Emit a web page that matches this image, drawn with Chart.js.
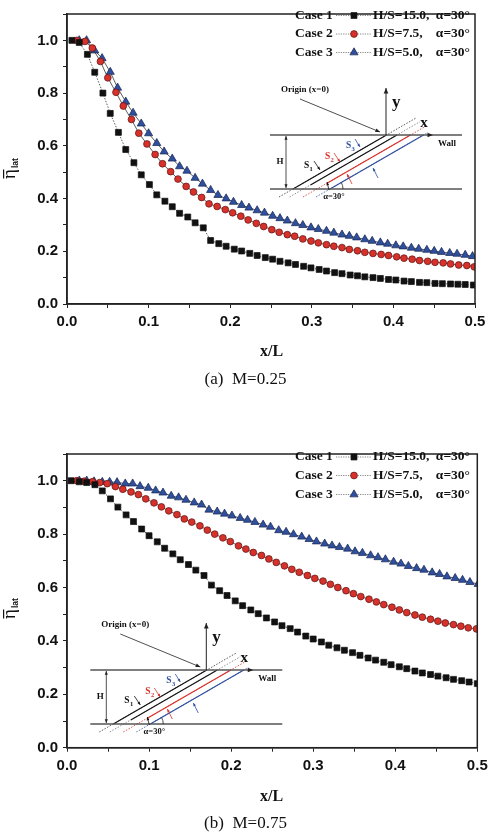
<!DOCTYPE html>
<html>
<head>
<meta charset="utf-8">
<script src="https://cdn.jsdelivr.net/npm/chart.js@4.4.1/dist/chart.umd.min.js"></script>
<style>
  html, body { margin: 0; padding: 0; background: #fff; }
  #wrap { position: relative; width: 493px; height: 837px; }
  .panel { position: absolute; left: 0; width: 493px; }
</style>
</head>
<body>
<div id="wrap">
  <div class="panel" style="top:0;height:400px"><canvas id="chartA"></canvas></div>
  <div class="panel" style="top:440px;height:397px"><canvas id="chartB"></canvas></div>
</div>
<script>
// ---- panel (a) M=0.25 ----
var xA1 = [0.006,0.015,0.025,0.034,0.044,0.053,0.063,0.072,0.082,0.091,0.101,0.110,0.120,0.129,0.138,0.148,0.157,0.167,0.176,0.186,0.195,0.205,0.214,0.224,0.233,0.243,0.252,0.261,0.271,0.280,0.290,0.299,0.309,0.318,0.328,0.337,0.347,0.356,0.365,0.375,0.384,0.394,0.403,0.413,0.422,0.432,0.441,0.451,0.460,0.470,0.479,0.488,0.498];
var yA1 = [1.000,0.992,0.947,0.879,0.800,0.723,0.651,0.586,0.536,0.490,0.453,0.414,0.390,0.369,0.344,0.330,0.308,0.289,0.241,0.229,0.219,0.208,0.201,0.192,0.184,0.176,0.170,0.162,0.156,0.150,0.143,0.137,0.131,0.125,0.119,0.115,0.110,0.107,0.103,0.100,0.097,0.093,0.091,0.087,0.085,0.082,0.081,0.078,0.077,0.076,0.075,0.074,0.072];
var xA2 = [0.012,0.022,0.031,0.041,0.050,0.060,0.069,0.079,0.088,0.098,0.108,0.117,0.127,0.136,0.146,0.155,0.165,0.174,0.184,0.194,0.203,0.213,0.222,0.232,0.241,0.251,0.260,0.270,0.279,0.289,0.299,0.308,0.318,0.327,0.337,0.346,0.356,0.365,0.375,0.385,0.394,0.404,0.413,0.423,0.432,0.442,0.451,0.461,0.470,0.480,0.490,0.499];
var yA2 = [1.000,0.996,0.971,0.920,0.858,0.803,0.751,0.700,0.648,0.607,0.567,0.532,0.502,0.474,0.446,0.425,0.404,0.380,0.370,0.358,0.346,0.333,0.319,0.306,0.294,0.282,0.272,0.263,0.257,0.247,0.239,0.232,0.225,0.219,0.214,0.207,0.202,0.196,0.192,0.188,0.184,0.179,0.174,0.170,0.165,0.162,0.158,0.156,0.152,0.148,0.146,0.141];
var xA3 = [0.015,0.024,0.034,0.043,0.053,0.062,0.072,0.081,0.091,0.100,0.110,0.119,0.129,0.138,0.147,0.157,0.166,0.176,0.185,0.195,0.204,0.214,0.223,0.233,0.242,0.252,0.261,0.270,0.280,0.289,0.299,0.308,0.318,0.327,0.337,0.346,0.355,0.365,0.374,0.384,0.393,0.403,0.412,0.422,0.431,0.441,0.450,0.459,0.469,0.478,0.488,0.497];
var yA3 = [1.000,1.000,0.961,0.932,0.880,0.820,0.767,0.725,0.684,0.647,0.610,0.578,0.551,0.522,0.505,0.478,0.456,0.432,0.413,0.400,0.387,0.375,0.365,0.355,0.346,0.334,0.325,0.316,0.306,0.299,0.290,0.284,0.277,0.270,0.263,0.258,0.252,0.245,0.239,0.233,0.228,0.222,0.218,0.213,0.209,0.205,0.201,0.197,0.193,0.190,0.186,0.181];

// ---- panel (b) M=0.75 ----
var xB1 = [0.005,0.015,0.024,0.034,0.043,0.053,0.062,0.072,0.081,0.091,0.100,0.110,0.119,0.129,0.138,0.148,0.157,0.167,0.176,0.186,0.195,0.205,0.214,0.224,0.233,0.243,0.253,0.262,0.272,0.281,0.291,0.300,0.310,0.319,0.329,0.338,0.348,0.357,0.367,0.376,0.386,0.395,0.405,0.414,0.424,0.433,0.443,0.452,0.462,0.471,0.481,0.490,0.500];
var yB1 = [1.000,0.996,0.993,0.985,0.962,0.932,0.901,0.872,0.847,0.819,0.794,0.771,0.747,0.726,0.704,0.686,0.665,0.645,0.609,0.588,0.570,0.550,0.532,0.516,0.502,0.486,0.471,0.457,0.446,0.433,0.418,0.407,0.396,0.384,0.374,0.365,0.356,0.346,0.336,0.328,0.320,0.311,0.303,0.296,0.287,0.280,0.274,0.268,0.262,0.256,0.251,0.246,0.240];
var xB2 = [0.012,0.021,0.031,0.040,0.049,0.059,0.068,0.078,0.087,0.096,0.106,0.115,0.124,0.134,0.143,0.152,0.162,0.171,0.180,0.190,0.199,0.209,0.218,0.227,0.237,0.246,0.255,0.265,0.274,0.283,0.293,0.302,0.312,0.321,0.330,0.340,0.349,0.358,0.368,0.377,0.386,0.396,0.405,0.414,0.424,0.433,0.443,0.452,0.461,0.471,0.480,0.489,0.499];
var yB2 = [1.000,0.998,0.996,0.993,0.989,0.978,0.968,0.958,0.948,0.932,0.917,0.902,0.887,0.873,0.857,0.845,0.831,0.815,0.800,0.786,0.772,0.756,0.744,0.731,0.720,0.707,0.694,0.681,0.668,0.657,0.645,0.634,0.624,0.612,0.600,0.588,0.577,0.566,0.556,0.546,0.536,0.526,0.516,0.506,0.497,0.489,0.481,0.474,0.467,0.461,0.455,0.449,0.445];
var xB3 = [0.015,0.024,0.033,0.043,0.052,0.061,0.071,0.080,0.089,0.099,0.108,0.117,0.127,0.136,0.145,0.155,0.164,0.173,0.183,0.192,0.201,0.211,0.220,0.229,0.239,0.248,0.258,0.267,0.276,0.286,0.295,0.304,0.314,0.323,0.332,0.342,0.351,0.360,0.370,0.379,0.388,0.398,0.407,0.416,0.426,0.435,0.445,0.454,0.463,0.473,0.482,0.491,0.501];
var yB3 = [1.000,1.000,0.997,0.995,0.995,0.994,0.989,0.989,0.979,0.973,0.963,0.955,0.943,0.937,0.928,0.918,0.910,0.891,0.884,0.876,0.869,0.860,0.853,0.845,0.835,0.827,0.814,0.808,0.799,0.790,0.781,0.772,0.764,0.757,0.751,0.745,0.735,0.729,0.720,0.713,0.705,0.696,0.689,0.680,0.672,0.666,0.656,0.650,0.641,0.635,0.628,0.620,0.613];

var caseNames = ["Case 1", "Case 2", "Case 3"];
var caseRatios = ["H/S=15.0,", "H/S=7.5,", "H/S=5.0,"];
var caseAngle = "\u03b1=30\u00b0";
var captions = ["(a)  M=0.25", "(b)  M=0.75"];
var xTitle = "x/L";

var SERIF = '"Liberation Serif", "Times New Roman", serif';
var SANS = '"Liberation Sans", Arial, sans-serif';
var styles = [
  { pointStyle: 'rect', radius: 4.2, fill: '#111', edge: '#111', dash: [1.5, 1.5] },
  { pointStyle: 'circle', radius: 3.4, fill: '#d8312b', edge: '#5a1512', dash: [] },
  { pointStyle: 'triangle', radius: 4.7, fill: '#2f4f9f', edge: '#15244f', dash: [] }
];

function pts(xs, ys) {
  return xs.map(function (x, i) { return { x: x, y: ys[i] }; });
}

function makeSet(xs, ys, k) {
  var s = styles[k];
  return {
    label: caseNames[k],
    data: pts(xs, ys),
    showLine: true,
    borderColor: '#333',
    borderWidth: 0.8,
    borderDash: s.dash,
    pointStyle: s.pointStyle,
    pointRadius: s.radius,
    pointHoverRadius: s.radius,
    pointBackgroundColor: s.fill,
    pointBorderColor: s.edge,
    pointBorderWidth: 0.7
  };
}

function isStep(v, step) {
  var q = v / step;
  return Math.abs(q - Math.round(q)) < 1e-6;
}

// small drawing helpers
function seg(ctx, x1, y1, x2, y2, color, w, dash) {
  ctx.save();
  ctx.strokeStyle = color; ctx.lineWidth = w || 1;
  ctx.setLineDash(dash || []);
  ctx.beginPath(); ctx.moveTo(x1, y1); ctx.lineTo(x2, y2); ctx.stroke();
  ctx.restore();
}
function head(ctx, x1, y1, x2, y2, color, size) {
  var a = Math.atan2(y2 - y1, x2 - x1), s = size || 5;
  ctx.save();
  ctx.fillStyle = color;
  ctx.beginPath();
  ctx.moveTo(x2, y2);
  ctx.lineTo(x2 - s * Math.cos(a - 0.4), y2 - s * Math.sin(a - 0.4));
  ctx.lineTo(x2 - s * Math.cos(a + 0.4), y2 - s * Math.sin(a + 0.4));
  ctx.closePath(); ctx.fill();
  ctx.restore();
}
function arrow(ctx, x1, y1, x2, y2, color, w, size) {
  seg(ctx, x1, y1, x2, y2, color, w);
  head(ctx, x1, y1, x2, y2, color, size);
}
function txt(ctx, s, x, y, font, color, align) {
  ctx.save();
  ctx.font = font; ctx.fillStyle = color || '#000';
  ctx.textAlign = align || 'left'; ctx.textBaseline = 'middle';
  ctx.fillText(s, x, y);
  ctx.restore();
}
function sLabel(ctx, n, x, y, color) {
  txt(ctx, 'S', x, y, 'bold 9.5px ' + SERIF, color);
  txt(ctx, n, x + 5.6, y + 3, 'bold 6.5px ' + SERIF, color);
}

function marker(ctx, k, x, y) {
  var s = styles[k];
  ctx.save();
  ctx.fillStyle = s.fill; ctx.strokeStyle = s.edge; ctx.lineWidth = 0.7;
  ctx.beginPath();
  if (k === 0) {
    var h = s.radius * Math.SQRT1_2;
    ctx.rect(x - h, y - h, 2 * h, 2 * h);
  } else if (k === 1) {
    ctx.arc(x, y, s.radius, 0, Math.PI * 2);
  } else {
    var r = s.radius;
    ctx.moveTo(x, y - r);
    ctx.lineTo(x + r * 0.866, y + r * 0.5);
    ctx.lineTo(x - r * 0.866, y + r * 0.5);
    ctx.closePath();
  }
  ctx.fill(); ctx.stroke();
  ctx.restore();
}

// schematic of the slot, coordinates given for panel (a)
function drawInset(ctx, dx, dy) {
  ctx.save();
  ctx.translate(dx, dy);
  var k = 1.732;
  var slants = [[293, '#333', 416], [303.5, '#777', 420], [317, '#d8312b', 424], [330, '#2f4f9f', 428]];
  slants.forEach(function (s) {
    var b = s[0];
    seg(ctx, b - 14, 197, s[2], 189 - (s[2] - b) / k, s[1], 0.8, [1.5, 1.5]);
  });
  seg(ctx, 293, 189, 386.5, 135, '#111', 1.1);
  seg(ctx, 303.5 + 7, 185, 397, 135, '#111', 1.1);
  seg(ctx, 317 + 10, 183.2, 410.5, 135, '#d8312b', 1.1);
  seg(ctx, 330, 189, 423.5, 135, '#2f4f9f', 1.1);
  // walls
  seg(ctx, 270, 135, 462, 135, '#555', 1.3);
  seg(ctx, 270, 189, 462, 189, '#555', 1.3);
  head(ctx, 420, 135, 433, 135, '#222', 6);
  // y axis and origin pointer
  arrow(ctx, 386, 135, 386, 88, '#222', 1, 6);
  arrow(ctx, 300, 99, 380, 132, '#222', 0.8, 5);
  // H dimension
  arrow(ctx, 286, 160, 286, 136, '#222', 0.8, 4);
  arrow(ctx, 286, 160, 286, 188, '#222', 0.8, 4);
  // S arrows
  arrow(ctx, 314, 161, 320, 170, '#111', 0.8, 3.5);
  arrow(ctx, 334, 153, 340, 162, '#d8312b', 0.8, 3.5);
  arrow(ctx, 355, 139, 360, 147, '#2f4f9f', 0.8, 3.5);
  arrow(ctx, 329, 190, 327, 182, '#111', 0.8, 3.5);
  arrow(ctx, 352, 184, 347, 174, '#d8312b', 0.8, 3.5);
  arrow(ctx, 378, 178, 373, 168, '#2f4f9f', 0.8, 3.5);
  // angle arc
  ctx.save();
  ctx.strokeStyle = '#222'; ctx.lineWidth = 0.8;
  ctx.beginPath(); ctx.arc(330, 189, 13, -Math.PI / 6, 0); ctx.stroke();
  ctx.restore();
  // labels
  txt(ctx, 'Origin (x=0)', 281, 90, 'bold 9px ' + SERIF, '#111');
  txt(ctx, 'y', 392, 103, 'bold 17px ' + SERIF, '#111');
  txt(ctx, 'x', 424, 123, 'bold 15px ' + SERIF, '#111', 'center');
  txt(ctx, 'Wall', 438, 144, 'bold 9px ' + SERIF, '#111');
  txt(ctx, 'H', 280, 162, 'bold 9px ' + SERIF, '#111', 'center');
  sLabel(ctx, '1', 304, 166, '#111');
  sLabel(ctx, '2', 325, 157, '#d8312b');
  sLabel(ctx, '3', 346, 146, '#2f4f9f');
  txt(ctx, caseAngle, 334, 197, 'bold 8.5px ' + SERIF, '#111', 'center');
  ctx.restore();
}

function decor(cfg) {
  return {
    id: 'decor',
    afterDraw: function (chart) {
      var ctx = chart.ctx, a = chart.chartArea, oy = cfg.pageTop;
      // frame
      ctx.save();
      ctx.strokeStyle = '#222'; ctx.lineWidth = 1.5;
      ctx.strokeRect(a.left, a.top, a.right - a.left, a.bottom - a.top);
      ctx.restore();
      // legend
      for (var i = 0; i < 3; i++) {
        var ly = cfg.legendY[i] - oy;
        txt(ctx, caseNames[i], 295, ly, 'bold 13.5px ' + SERIF, '#111');
        seg(ctx, 336, ly, 371, ly, '#777', 0.9, [1.2, 1.2]);
        marker(ctx, i, 354, ly);
        txt(ctx, caseRatios[i], 373, ly, 'bold 13.5px ' + SERIF, '#111');
        txt(ctx, caseAngle, 470, ly, 'bold 13.5px ' + SERIF, '#111', 'right');
      }
      // inset schematic
      drawInset(ctx, cfg.insetDx, cfg.insetDy - oy);
      // y title: eta-bar with subscript lat, rotated
      ctx.save();
      ctx.translate(15, cfg.etaY - oy);
      ctx.rotate(-Math.PI / 2);
      ctx.fillStyle = '#111';
      ctx.font = '19px ' + SERIF;
      ctx.textAlign = 'center'; ctx.textBaseline = 'alphabetic';
      ctx.fillText('\u03b7', 0, 0);
      ctx.fillRect(-4.5, -12, 9, 1.2);
      ctx.font = 'bold 8.5px ' + SANS;
      ctx.textAlign = 'left';
      ctx.fillText('lat', 6, 3);
      ctx.restore();
      // x title and caption
      txt(ctx, xTitle, 271.5, cfg.xTitleY - oy, 'bold 16px ' + SERIF, '#111', 'center');
      txt(ctx, cfg.caption, 245.5, cfg.captionY - oy, '17px ' + SERIF, '#111', 'center');
    }
  };
}

function makeChart(id, sets, cfg) {
  return new Chart(document.getElementById(id), {
    type: 'scatter',
    data: { datasets: sets },
    options: {
      responsive: true,
      maintainAspectRatio: false,
      animation: false,
      events: [],
      layout: { autoPadding: false, padding: { top: cfg.padTop, right: cfg.padRight, bottom: 0, left: 0 } },
      plugins: { legend: { display: false }, tooltip: { enabled: false } },
      scales: {
        x: {
          type: 'linear', min: 0, max: 0.5,
          ticks: {
            stepSize: 0.05, autoSkip: false, maxRotation: 0, padding: 5, color: '#111',
            font: { family: SANS, size: 15, weight: 'bold' },
            callback: function (v) { return isStep(v, 0.1) ? v.toFixed(1) : ''; }
          },
          grid: { drawOnChartArea: false, tickLength: 4, color: '#222', tickColor: '#222', tickWidth: 1 },
          border: { color: '#222', width: 1.5 },
          afterFit: function (s) { s.height = cfg.xHeight; }
        },
        y: {
          type: 'linear', min: 0, max: 1.1,
          ticks: {
            stepSize: 0.1, autoSkip: false, padding: 5, color: '#111',
            font: { family: SANS, size: 15, weight: 'bold' },
            callback: function (v) { return (isStep(v, 0.2) && v < 1.05) ? v.toFixed(1) : ''; }
          },
          grid: { drawOnChartArea: false, tickLength: 4, color: '#222', tickColor: '#222', tickWidth: 1 },
          border: { color: '#222', width: 1.5 },
          afterFit: function (s) { s.width = 67; }
        }
      }
    },
    plugins: [decor(cfg)]
  });
}

makeChart('chartA', [makeSet(xA1, yA1, 0), makeSet(xA2, yA2, 1), makeSet(xA3, yA3, 2)], {
  pageTop: 0, padTop: 4.8, padRight: 18, xHeight: 96,
  legendY: [15.5, 34, 52.5], insetDx: 0, insetDy: 0, etaY: 174,
  xTitleY: 352, captionY: 380, caption: captions[0]
});
makeChart('chartB', [makeSet(xB1, yB1, 0), makeSet(xB2, yB2, 1), makeSet(xB3, yB3, 2)], {
  pageTop: 440, padTop: 7, padRight: 15.7, xHeight: 89.3,
  legendY: [457, 475.5, 494.5], insetDx: -179.7, insetDy: 535, etaY: 614,
  xTitleY: 797, captionY: 824, caption: captions[1]
});
</script>
</body>
</html>
